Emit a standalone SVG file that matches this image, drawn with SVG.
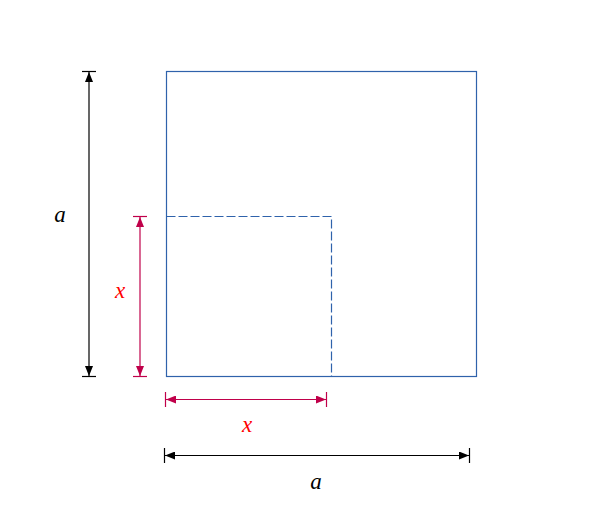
<svg xmlns="http://www.w3.org/2000/svg" width="593" height="532" viewBox="0 0 593 532">
<style>
.sq{fill:none;stroke:#2f62ab;stroke-width:1.2}
.dash{fill:none;stroke:#2f62ab;stroke-width:1.2;stroke-dasharray:9,3}
.dk{stroke:#000;stroke-width:1.2;fill:none}
.dr{stroke:#c0004a;stroke-width:1.2;fill:none}
.lk{font-family:"Liberation Serif",serif;font-style:italic;font-size:23px;fill:#000;text-anchor:middle}
.lr{font-family:"Liberation Serif",serif;font-style:italic;font-size:23px;fill:#ff0000;text-anchor:middle}
</style>
<defs>
<marker id="ak" viewBox="0 0 10 8" refX="10" refY="4" markerWidth="10" markerHeight="8" markerUnits="userSpaceOnUse" orient="auto-start-reverse"><path d="M0,0 L10,4 L0,8 Z" fill="#000"/></marker>
<marker id="ar" viewBox="0 0 10 8" refX="10" refY="4" markerWidth="10" markerHeight="8" markerUnits="userSpaceOnUse" orient="auto-start-reverse"><path d="M0,0 L10,4 L0,8 Z" fill="#c0004a"/></marker>
</defs>
<g id="square">
<rect class="sq" x="166.5" y="71.5" width="310" height="305"/>
</g>
<g id="inner">
<path class="dash" d="M166.5,216.5 H331.5 V376.5"/>
</g>
<g id="connectors">
<line class="dk" x1="89" y1="72" x2="89" y2="376" marker-start="url(#ak)" marker-end="url(#ak)"/>
<line class="dk" x1="82" y1="71.5" x2="96" y2="71.5"/>
<line class="dk" x1="82" y1="376.5" x2="96" y2="376.5"/>
<line class="dr" x1="140" y1="217" x2="140" y2="376" marker-start="url(#ar)" marker-end="url(#ar)"/>
<line class="dr" x1="133" y1="216.5" x2="147" y2="216.5"/>
<line class="dr" x1="133" y1="376.5" x2="147" y2="376.5"/>
<line class="dr" x1="166" y1="399.5" x2="326" y2="399.5" marker-start="url(#ar)" marker-end="url(#ar)"/>
<line class="dr" x1="165.5" y1="392" x2="165.5" y2="407"/>
<line class="dr" x1="326.5" y1="392" x2="326.5" y2="407"/>
<line class="dk" x1="165" y1="455.5" x2="469" y2="455.5" marker-start="url(#ak)" marker-end="url(#ak)"/>
<line class="dk" x1="164.5" y1="448" x2="164.5" y2="463"/>
<line class="dk" x1="469.5" y1="448" x2="469.5" y2="463"/>
</g>
<g id="labels">
<text class="lk" x="60" y="222">a</text>
<text class="lr" x="120" y="298">x</text>
<text class="lr" x="247" y="432">x</text>
<text class="lk" x="316" y="489">a</text>
</g>
</svg>
